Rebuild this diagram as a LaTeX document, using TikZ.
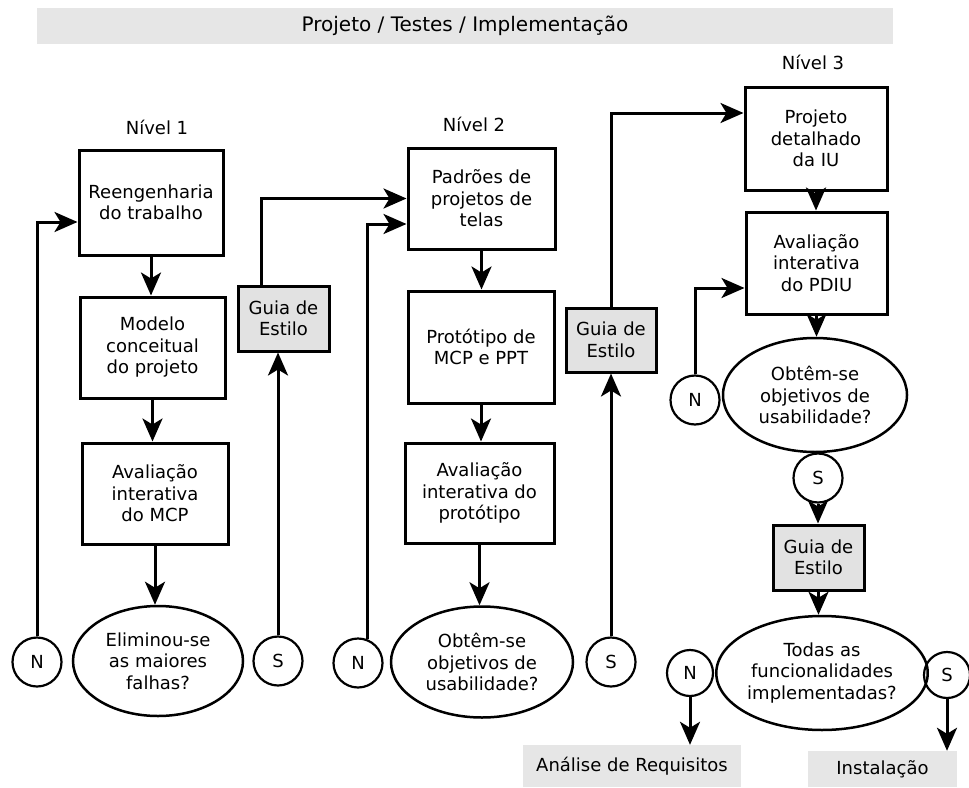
\documentclass[tikz,border=0pt]{standalone}
\usepackage{fontspec}
\setmainfont{DejaVu Sans}
\usetikzlibrary{arrows.meta,shapes.geometric}
\definecolor{bandgray}{HTML}{E6E6E6}
\definecolor{guiagray}{HTML}{E2E2E2}
\begin{document}
\begin{tikzpicture}[x=1pt,y=-1pt,
  every node/.style={font=\fontsize{18}{21.5}\selectfont, align=center, inner sep=0pt},
  proc/.style={draw, line width=3pt, rectangle},
  guia/.style={proc, fill=guiagray, minimum width=91pt, minimum height=65pt},
  decis/.style={draw, line width=2.5pt, ellipse},
  resp/.style={draw, line width=2.2pt, circle, minimum size=49pt},
  band/.style={fill=bandgray, rectangle},
  flow/.style={line width=3pt, -{Stealth[length=23pt,width=20pt,inset=6pt]}}
]
\useasboundingbox (0,0) rectangle (969,787);

% phase banner and level titles
\node[band, minimum width=856pt, minimum height=36pt, font=\fontsize{20}{24}\selectfont] (banner) at (465,26) {Projeto / Testes / Implementação};
\node (lv1) at (157,127) {Nível 1};
\node (lv2) at (474,124) {Nível 2};
\node (lv3) at (813,62) {Nível 3};

% level 1
\node[proc, minimum width=144pt, minimum height=105pt] (b1) at (151,202.5) {Reengenharia\\do trabalho};
\node[proc, minimum width=145pt, minimum height=101pt] (b2) at (152.5,347.5) {Modelo\\conceitual\\do projeto};
\node[proc, minimum width=146pt, minimum height=101pt] (b3) at (155,493.5) {Avaliação\\interativa\\do MCP};
\node[decis, minimum width=170pt, minimum height=110pt] (e1) at (158,661) {Eliminou-se\\as maiores\\falhas?};
\node[resp] (n1) at (37,662) {N};
\node[resp] (s1) at (278,661) {S};
\node[guia] (g1) at (283.5,318.5) {Guia de\\Estilo};

% level 2
\node[proc, minimum width=147pt, minimum height=101pt] (b4) at (481.5,198.5) {Padrões de\\projetos de\\telas};
\node[proc, minimum width=146pt, minimum height=112pt] (b5) at (481,347) {Protótipo de\\MCP e PPT};
\node[proc, minimum width=149pt, minimum height=100pt] (b6) at (479.5,493) {Avaliação\\interativa do\\protótipo};
\node[decis, minimum width=182pt, minimum height=111pt] (e2) at (482,662) {Obtêm-se\\objetivos de\\usabilidade?};
\node[resp] (n2) at (358,663) {N};
\node[resp] (s2) at (611,662) {S};
\node[guia, minimum width=90pt, minimum height=64pt] (g2) at (611,340) {Guia de\\Estilo};

% level 3
\node[proc, minimum width=142pt, minimum height=103pt] (b7) at (816,138.5) {Projeto\\detalhado\\da IU};
\node[proc, minimum width=141pt, minimum height=102pt] (b8) at (816.5,263) {Avaliação\\interativa\\do PDIU};
\node[decis, minimum width=184pt, minimum height=114pt] (e3) at (815,395) {Obtêm-se\\objetivos de\\usabilidade?};
\node[resp] (n3) at (695,400) {N};
\node[resp] (s3) at (818,478) {S};
\node[guia] (g3) at (818.5,557.5) {Guia de\\Estilo};
\node[decis, minimum width=206pt, minimum height=114pt] (e4) at (822,673) {Todas as\\funcionalidades\\implementadas?};
\node[resp, minimum size=46pt] (n4) at (690,673) {N};
\node[resp, minimum size=46pt] (s4) at (947,675) {S};

% exits
\node[band, minimum width=218pt, minimum height=42pt] (req) at (632,766) {Análise de Requisitos};
\node[band, minimum width=149pt, minimum height=36pt] (inst) at (882.5,769) {Instalação};

% main flow
\draw[flow] (b1.south) -- (b1.south |- b2.north);
\draw[flow] (b2.south) -- (b2.south |- b3.north);
\draw[flow] (b3.south) -- (b3.south |- e1.north);
\draw[flow] (b4.south) -- (b4.south |- b5.north);
\draw[flow] (b5.south) -- (b5.south |- b6.north);
\draw[flow] (b6.south) -- (b6.south |- e2.north);
\draw[flow] (b7.south) -- (b7.south |- b8.north);
\draw[flow] (b8.south) -- (b8.south |- e3.north);
\draw[flow] (s3.south) -- (s3.south |- g3.north);
\draw[flow] (g3.south) -- (g3.south |- e4.north);

% loops back on "N"
\draw[flow] (n1.north) |- ([yshift=-19.5pt]b1.west);
\draw[flow] (n2.68) |- ([yshift=-25.5pt]b4.west);
\draw[flow] (n3.north) |- ([yshift=-25pt]b8.west);

% "S" answers through the style guide
\draw[flow] (s1.north) -- (s1.north |- g1.south);
\draw[flow] ([xshift=-22.5pt]g1.north) |- (b4.west);
\draw[flow] (s2.north) -- (s2.north |- g2.south);
\draw[flow] (g2.north) |- ([yshift=25.5pt]b7.west);

% final decision
\draw[flow] (n4.south) -- (n4.south |- req.north);
\draw[flow] (s4.south) -- (s4.south |- inst.north);
\end{tikzpicture}
\end{document}
